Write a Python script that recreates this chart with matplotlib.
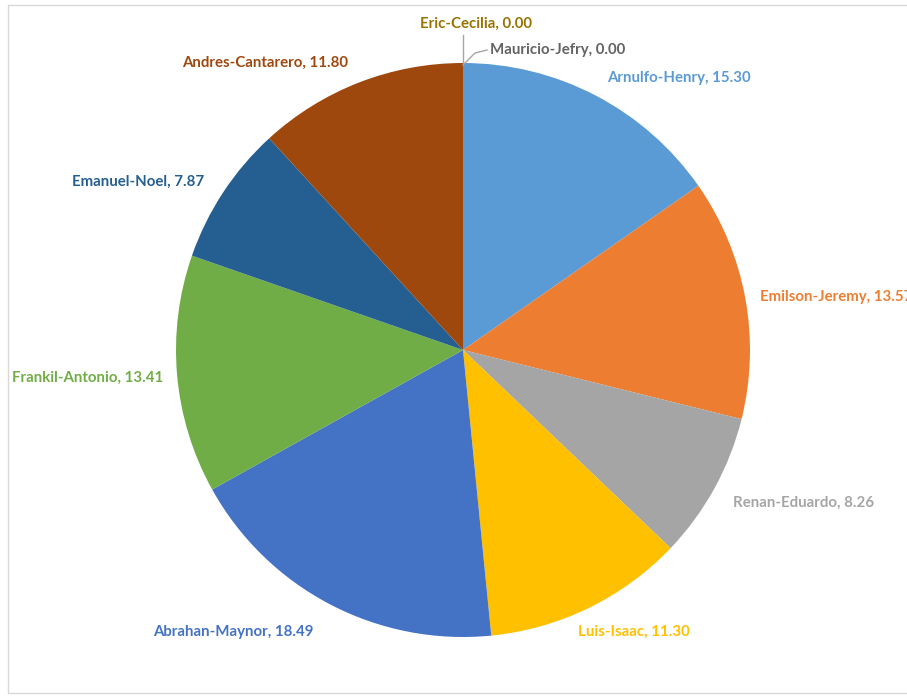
import matplotlib.pyplot as plt
from matplotlib.patches import Rectangle

# slice data, clockwise from 12 o'clock
names = ['Arnulfo-Henry', 'Emilson-Jeremy', 'Renan-Eduardo', 'Luis-Isaac',
         'Abrahan-Maynor', 'Frankil-Antonio', 'Emanuel-Noel', 'Andres-Cantarero',
         'Mauricio-Jefry', 'Eric-Cecilia']
values = [15.30, 13.57, 8.26, 11.30, 18.49, 13.41, 7.87, 11.80, 0.00, 0.00]
colors = ['#5B9BD5', '#ED7D31', '#A5A5A5', '#FFC000', '#4472C4', '#70AD47',
          '#255E91', '#9E480E', '#636363', '#997300']

# label anchor (left x, y) in pixels from top-left
label_pos = [(607, 78), (760, 297), (733, 503), (578, 632), (153, 632),
             (12, 378), (72, 182), (182, 63), (490, 50), (420, 24)]

W, H = 907, 696
fig = plt.figure(figsize=(W / 100, H / 100), dpi=100)
ax = fig.add_axes([0, 0, 1, 1])

# chart area border
ax.add_patch(Rectangle((7.5, 3), W, H - 7.5, fill=False, edgecolor='#D9D9D9', lw=1))

cx, cy, r = 463, H - 350, 287
ax.pie(values, colors=colors, startangle=90, counterclock=False,
       center=(cx, cy), radius=r, frame=True,
       wedgeprops=dict(linewidth=0))
ax.set_xlim(0, W)
ax.set_ylim(0, H)
ax.set_aspect('auto')
ax.axis('off')

# leader lines for the zero slices
ax.plot([cx, cx], [cy + r, H - 35], color='#A6A6A6', lw=1)
ax.plot([cx, cx + 5, cx + 12, cx + 24], [cy + r - 2, H - 60, H - 53, H - 50],
        color='#A6A6A6', lw=1)

for name, v, c, (x, y) in zip(names, values, colors, label_pos):
    ax.text(x, H - y, f'{name}, {v:.2f}', color=c, fontsize=10.8,
            fontweight='bold', family='Lato', ha='left', va='center')

fig.savefig('out.png', dpi=100)
